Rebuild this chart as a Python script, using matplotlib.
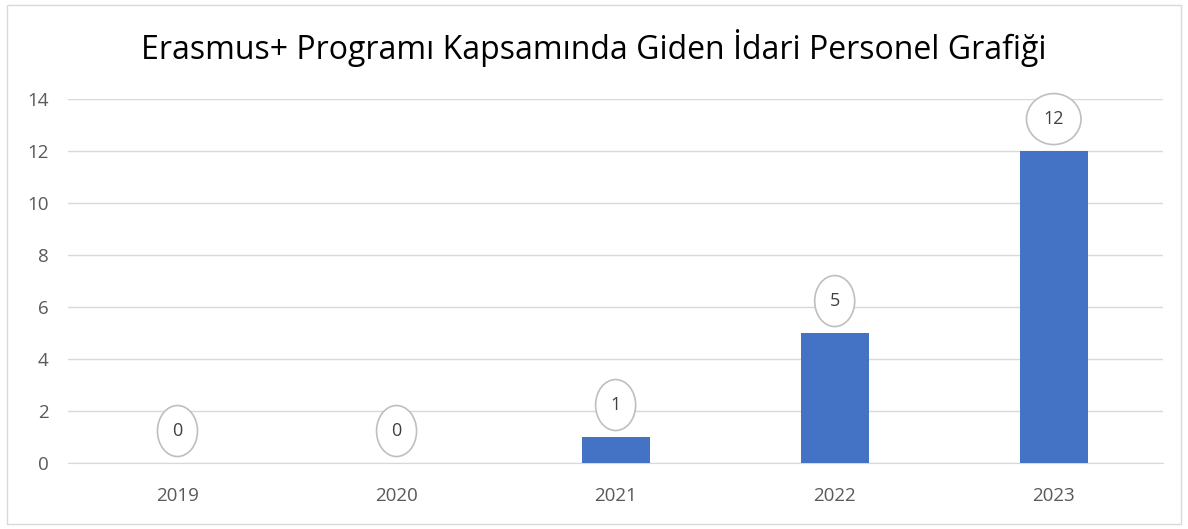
import matplotlib.pyplot as plt
from matplotlib.patches import Rectangle

years = ["2019", "2020", "2021", "2022", "2023"]
counts = [0, 0, 1, 5, 12]
yticks = [0, 2, 4, 6, 8, 10, 12, 14]

plt.rcParams["font.family"] = ["Open Sans", "DejaVu Sans"]

fig = plt.figure(figsize=(11.88, 5.29), dpi=100)
ax = fig.add_axes([0.0572, 0.1248, 0.922, 0.688])

x = range(len(years))
ax.bar(x, counts, width=0.31, color="#4472C4", zorder=3)

for xi, v in zip(x, counts):
    ax.annotate(
        str(v),
        (xi, v),
        xytext=(0, 23),
        textcoords="offset points",
        ha="center",
        va="center",
        fontsize=13,
        color="#404040",
        bbox=dict(boxstyle="ellipse,pad=0.5", fc="white", ec="#BFBFBF", lw=1.2),
        zorder=4,
    )

ax.set_xlim(-0.5, 4.5)
ax.set_ylim(0, 14)
ax.set_xticks(list(x))
ax.set_xticklabels(years)
ax.set_yticks(yticks)
ax.grid(axis="y", color="#D9D9D9", linewidth=1, zorder=0)
ax.tick_params(axis="both", length=0, labelsize=13.5, colors="#595959")
ax.tick_params(axis="x", pad=17)
ax.tick_params(axis="y", pad=14)
for s in ["top", "right", "left"]:
    ax.spines[s].set_visible(False)
ax.spines["bottom"].set_color("#D9D9D9")

fig.text(0.5, 0.91, "Erasmus+ Programı Kapsamında Giden İdari Personel Grafiği",
         ha="center", va="center", fontsize=23, color="#000000")

fig.patches.append(Rectangle((0.006, 0.01), 0.988, 0.98, transform=fig.transFigure,
                             fill=False, edgecolor="#D9D9D9", linewidth=1))

fig.savefig("out.png", dpi=100)
